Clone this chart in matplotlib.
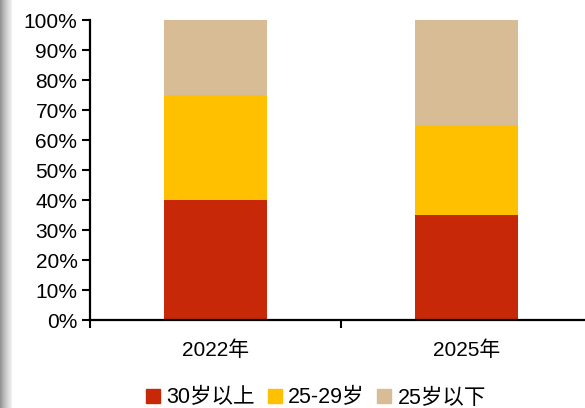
import numpy as np
import matplotlib
matplotlib.use("Agg")
import matplotlib.pyplot as plt
from matplotlib.patches import Patch

plt.rcParams['font.family'] = ['Liberation Sans', 'Noto Sans CJK SC', 'DejaVu Sans']

years = ["2022年", "2025年"]
over30 = [40, 35]
age25_29 = [35, 30]
under25 = [25, 35]
series_names = ["30岁以上", "25-29岁", "25岁以下"]
colors = ["#C62808", "#FFC000", "#D7BC95"]
yticks = list(range(0, 101, 10))

fig = plt.figure(figsize=(5.85, 4.08), dpi=100)

# gray strip on the left edge
strip = fig.add_axes([0, 0, 12 / 585, 1])
grad = np.linspace(0, 1, 50).reshape(1, -1)
strip.imshow(grad, aspect='auto', cmap='Greys_r', vmin=-1.2, vmax=1.3)
strip.axis('off')

ax = fig.add_axes([90 / 585, 88 / 408, 502 / 585, 300 / 408])
x = np.arange(len(years))
w = 0.41
ax.bar(x, over30, w, color=colors[0], label=series_names[0])
ax.bar(x, age25_29, w, bottom=over30, color=colors[1], label=series_names[1])
bottom2 = [a + b for a, b in zip(over30, age25_29)]
ax.bar(x, under25, w, bottom=bottom2, color=colors[2], label=series_names[2])

ax.set_xlim(-0.5, 1.5)
ax.set_ylim(0, 100)
ax.set_yticks(yticks)
ax.set_yticklabels([f"{t}%" for t in yticks], fontsize=15)
ax.set_xticks(x)
ax.set_xticklabels(years, fontsize=15)
ax.set_xticks([-0.5, 0.5, 1.5], minor=True)
ax.tick_params(axis='x', which='major', length=0, pad=15)
ax.tick_params(axis='x', which='minor', length=6, width=1.5, direction='out')
ax.tick_params(axis='y', length=6, width=1.5, direction='out', pad=3)

for s in ['top', 'right']:
    ax.spines[s].set_visible(False)
for s in ['left', 'bottom']:
    ax.spines[s].set_linewidth(1.6)

handles = [Patch(color=c) for c in colors]
fig.legend(handles, series_names, loc='center', bbox_to_anchor=(316 / 585, 10 / 408),
           ncol=3, frameon=False, fontsize=15.5, handlelength=0.65, handleheight=0.65,
           handletextpad=0.3, columnspacing=0.6)

fig.savefig("out.png", dpi=100)
